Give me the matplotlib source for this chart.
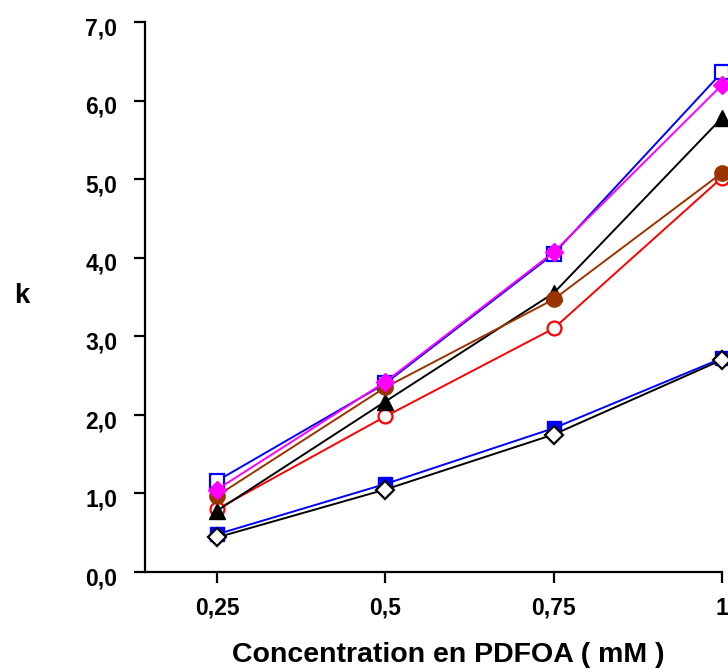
import matplotlib
matplotlib.use("Agg")
import matplotlib.pyplot as plt
from matplotlib.transforms import ScaledTranslation

plt.rcParams['font.family'] = ['Liberation Sans', 'DejaVu Sans']

x = [0.25, 0.5, 0.75, 1.0]
x_labels = ["0,25", "0,5", "0,75", "1"]
y_ticks = [0, 1, 2, 3, 4, 5, 6, 7]
y_labels = ["0,0", "1,0", "2,0", "3,0", "4,0", "5,0", "6,0", "7,0"]

s_blue_open_sq = [1.16, 2.40, 4.05, 6.36]
s_magenta_diamond = [1.05, 2.42, 4.07, 6.20]
s_black_triangle = [0.78, 2.17, 3.55, 5.78]
s_brown_circle = [0.97, 2.35, 3.47, 5.08]
s_red_open_circle = [0.80, 1.98, 3.10, 5.02]
s_blue_filled_sq = [0.48, 1.12, 1.83, 2.72]
s_black_open_diamond = [0.44, 1.05, 1.75, 2.70]

fig = plt.figure(figsize=(7.28, 6.69), dpi=100)
ax = fig.add_axes([145/728, 1 - 572/669, (722-145)/728, (572-22)/669])

lw = 1.4
ax.plot(x, s_blue_filled_sq, color='#0000FF', lw=lw, marker='s', ms=10,
        mfc='#0000FF', mec='#0000FF', clip_on=False, zorder=3)
ax.plot(x, s_black_open_diamond, color='black', lw=lw, marker='D', ms=9,
        mfc='white', mec='black', mew=1.6, clip_on=False, zorder=4)
ax.plot(x, s_red_open_circle, color='#FF0000', lw=lw, marker='o', ms=10,
        mfc='white', mec='#FF0000', mew=1.6, clip_on=False, zorder=3)
ax.plot(x, s_black_triangle, color='black', lw=lw, marker='^', ms=12,
        mfc='black', mec='black', clip_on=False, zorder=3)
ax.plot(x, s_brown_circle, color='#993300', lw=lw, marker='o', ms=11,
        mfc='#993300', mec='#993300', clip_on=False, zorder=4)
ax.plot(x, s_blue_open_sq, color='#0000FF', lw=lw, marker='s', ms=10,
        mfc='white', mec='#0000FF', mew=1.6, clip_on=False, zorder=3)
ax.plot(x, s_magenta_diamond, color='#FF00FF', lw=lw, marker='D', ms=9,
        mfc='#FF00FF', mec='#FF00FF', clip_on=False, zorder=4)

ax.set_xlim(0.143, 1.0)
ax.set_ylim(0, 7)
ax.set_xticks(x)
ax.set_xticklabels(x_labels)
ax.set_yticks(y_ticks)
ax.set_yticklabels(y_labels)

for side in ['top', 'right']:
    ax.spines[side].set_visible(False)
for side in ['left', 'bottom']:
    ax.spines[side].set_linewidth(1.6)

ax.tick_params(axis='y', direction='out', length=8, width=1.6,
               labelsize=16.5, pad=12)
ax.tick_params(axis='x', direction='out', length=8, width=1.6,
               labelsize=16.5, pad=10)
off = ScaledTranslation(0, -3/72, fig.dpi_scale_trans)
for lab in ax.get_yticklabels():
    lab.set_fontweight('bold')
    lab.set_transform(lab.get_transform() + off)
for lab in ax.get_xticklabels():
    lab.set_fontweight('bold')

fig.text(448/728, 1 - 662/669, "Concentration en PDFOA ( mM )", fontsize=20.5,
         fontweight='bold', ha='center', va='baseline')
fig.text(22/728, 1 - 296/669, "k", fontsize=20, fontweight='bold',
         ha='center', va='center')

fig.savefig("out.png", dpi=100)
